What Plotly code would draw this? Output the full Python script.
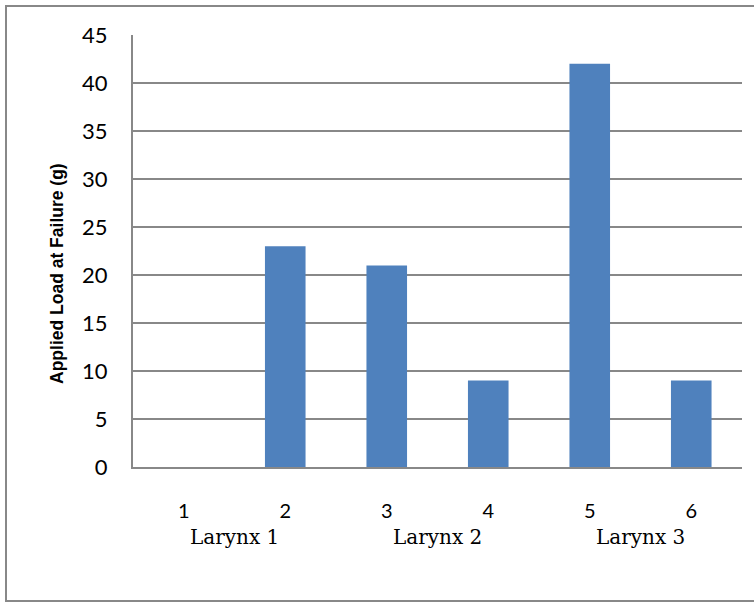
import plotly.graph_objects as go

categories = ["1", "2", "3", "4", "5", "6"]
loads = [0, 23, 21, 9, 42, 9]
group_labels = ["Larynx 1", "Larynx 2", "Larynx 3"]
group_positions = [0.5, 2.5, 4.5]
y_ticks = [0, 5, 10, 15, 20, 25, 30, 35, 40, 45]

W, H = 754, 605
L, R, T, B = 133, 12, 35, 138
pw, ph = W - L - R, H - T - B

def px(x):
    return (x - L) / pw

def py(y):
    return (H - B - y) / ph

fig = go.Figure()
fig.add_trace(go.Bar(
    x=list(range(len(categories))), y=loads,
    marker=dict(color="#4F81BD", line=dict(width=0)),
    width=0.4,
))

annotations = []
for lab, pos in zip(group_labels, group_positions):
    annotations.append(dict(
        x=pos, xref="x", y=py(537), yref="paper", text=lab, showarrow=False,
        font=dict(family="DejaVu Serif", size=20, color="#000"),
        xanchor="center", yanchor="middle",
    ))
annotations.append(dict(
    x=px(57), xref="paper", y=py(274), yref="paper",
    text="<b>Applied Load at Failure (g)</b>", textangle=-90, showarrow=False,
    font=dict(family="Liberation Sans", size=17.5, color="#000"),
    xanchor="center", yanchor="middle",
))

fig.update_layout(
    width=W, height=H,
    margin=dict(l=L, r=R, t=T, b=B),
    paper_bgcolor="white", plot_bgcolor="white",
    showlegend=False,
    bargap=0.6,
    annotations=annotations,
    shapes=[dict(type="rect", xref="paper", yref="paper",
                 x0=px(6), x1=px(762), y0=py(601), y1=py(6),
                 line=dict(color="#888888", width=2), layer="below")],
    xaxis=dict(
        tickmode="array", tickvals=list(range(len(categories))), ticktext=categories,
        range=[-0.5, 5.5], showgrid=False, zeroline=False,
        showline=True, linecolor="#888888", linewidth=2,
        ticks="outside", ticklen=25, tickcolor="rgba(0,0,0,0)",
        tickfont=dict(family="Lato", size=20, color="#000"),
    ),
    yaxis=dict(
        range=[0, 45], tickmode="array", tickvals=y_ticks,
        showgrid=True, gridcolor="#888888", gridwidth=2,
        zeroline=False, showline=True, linecolor="#888888", linewidth=2,
        ticks="outside", ticklen=19, tickcolor="rgba(0,0,0,0)",
        tickfont=dict(family="Lato", size=22, color="#000"),
    ),
)

fig.write_html(
    "out.html",
    config={"displayModeBar": False},
    post_script="document.body.style.margin='0';document.body.style.overflow='hidden';",
)
